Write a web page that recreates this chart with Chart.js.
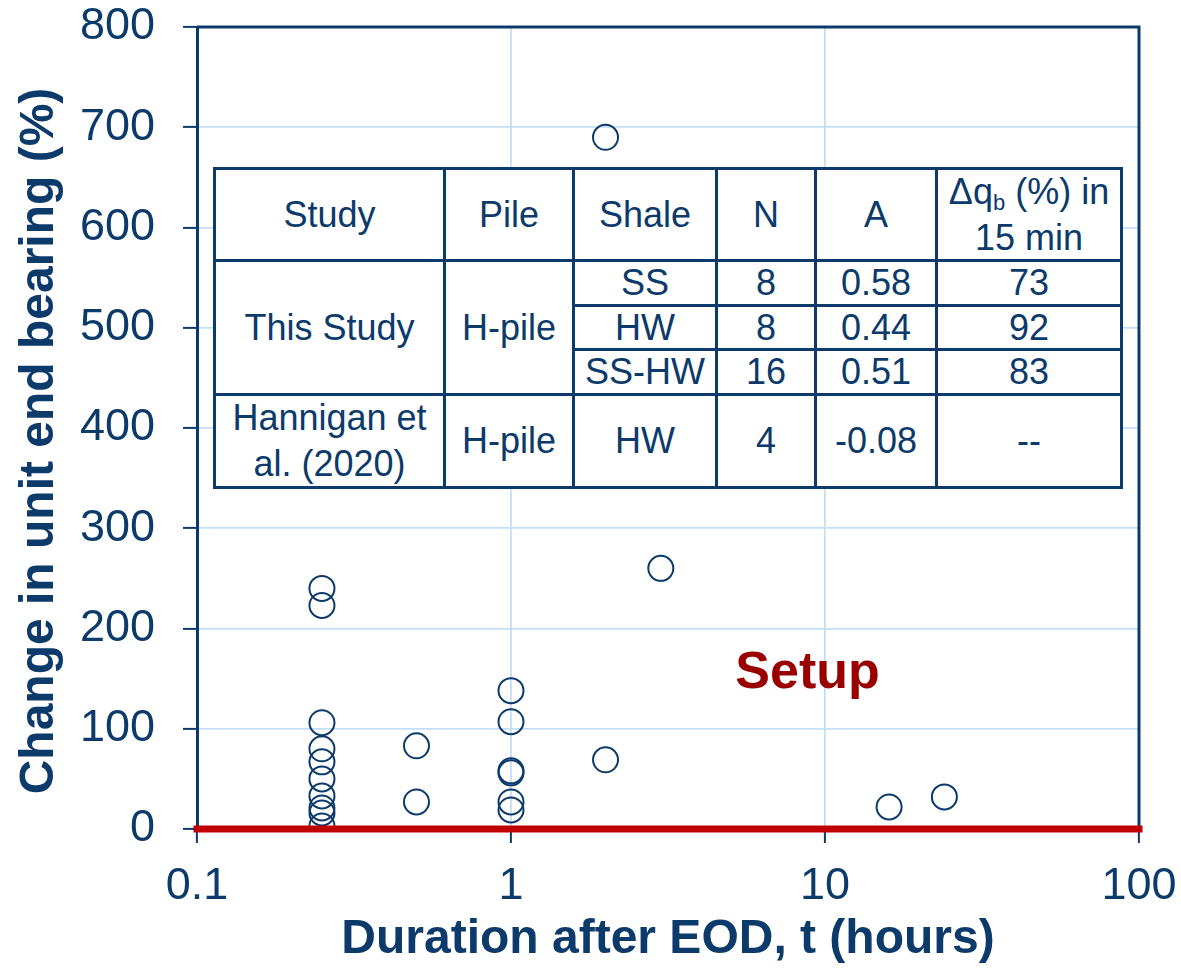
<!DOCTYPE html>
<html>
<head>
<meta charset="utf-8">
<script src="https://cdn.jsdelivr.net/npm/chart.js@4.4.1/dist/chart.umd.min.js"></script>
<style>
  html, body { margin: 0; padding: 0; background: #ffffff; }
  #wrap { position: relative; width: 1181px; height: 969px; }
  #c { position: absolute; left: 0; top: 0; }
  #tbl {
    position: absolute; left: 213px; top: 167px;
    display: grid;
    grid-template-columns: 227px 126px 140px 96px 118px 182px;
    grid-template-rows: 89px 42px 41px 42px 90px;
    gap: 3px; padding: 3px;
    background: #0b3a6b;
    font-family: "Liberation Sans", Arial, sans-serif;
    font-size: 36px; color: #0b3a6b;
  }
  #tbl div {
    background: #ffffff;
    display: flex; align-items: center; justify-content: center;
    text-align: center; line-height: 46px;
  }
  #tbl sub { font-size: 22px; vertical-align: -6px; line-height: 0; }
</style>
</head>
<body>
<div id="wrap">
  <canvas id="c" width="1181" height="969"></canvas>
  <div id="tbl"></div>
</div>
<script>
// ---- data ----
const durationHours = [0.25,0.25,0.25,0.25,0.25,0.25,0.25,0.25,0.25,0.25,
                       0.5,0.5,
                       1,1,1,1,1,1,
                       2,2,
                       3,
                       16,
                       24];
const changePercent = [240,223,106,80,67,50,33,21,16,3,
                       83,27,
                       138,107,58,56,27,19,
                       690,69,
                       260,
                       22,
                       32];
const xTickValues = [0.1, 1, 10, 100];
const setupLineX = [0.1, 100];
const setupLineY = [0, 0];
const setupLabel = "Setup";
const setupLabelAt = [8.8, 155];
const yTitle = "Change in unit end bearing (%)";
const xTitle = "Duration after EOD, t (hours)";

// table contents
const tableHeaders = ["Study", "Pile", "Shale", "N", "A", "Δq<sub>b</sub> (%) in<br>15 min"];
const studies = ["This Study", "Hannigan et<br>al. (2020)"];
const piles = ["H-pile", "H-pile"];
const shales = ["SS", "HW", "SS-HW", "HW"];
const nValues = ["8", "8", "16", "4"];
const aValues = ["0.58", "0.44", "0.51", "-0.08"];
const dqbValues = ["73", "92", "83", "--"];

// ---- table ----
(function buildTable(){
  const t = document.getElementById('tbl');
  function cell(html, col, row, rowSpan) {
    const d = document.createElement('div');
    const s = document.createElement('span');
    s.innerHTML = html;
    d.appendChild(s);
    d.style.gridColumn = col;
    d.style.gridRow = rowSpan ? (row + ' / span ' + rowSpan) : String(row);
    t.appendChild(d);
  }
  tableHeaders.forEach((h, i) => cell(h, i + 1, 1));
  cell(studies[0], 1, 2, 3);
  cell(piles[0], 2, 2, 3);
  for (let i = 0; i < 3; i++) {
    cell(shales[i], 3, 2 + i);
    cell(nValues[i], 4, 2 + i);
    cell(aValues[i], 5, 2 + i);
    cell(dqbValues[i], 6, 2 + i);
  }
  cell(studies[1], 1, 5);
  cell(piles[1], 2, 5);
  cell(shales[3], 3, 5);
  cell(nValues[3], 4, 5);
  cell(aValues[3], 5, 5);
  cell(dqbValues[3], 6, 5);
})();

// ---- chart ----
const NAVY = '#0b3a6b';
const GRID = '#c4def8';
const FONT = '"Liberation Sans", Arial, sans-serif';

const framePlugin = {
  id: 'frame',
  beforeDatasetsDraw(chart) {
    const { ctx, chartArea: a } = chart;
    ctx.save();
    ctx.strokeStyle = NAVY;
    ctx.lineWidth = 3;
    ctx.beginPath();
    ctx.moveTo(a.left, a.top);
    ctx.lineTo(a.right, a.top);
    ctx.lineTo(a.right, a.bottom);
    ctx.stroke();
    ctx.restore();
  },
  afterDatasetsDraw(chart) {
    const { ctx, scales } = chart;
    ctx.save();
    ctx.font = 'bold 52px ' + FONT;
    ctx.fillStyle = '#990000';
    ctx.textAlign = 'center';
    ctx.textBaseline = 'middle';
    ctx.fillText(setupLabel, scales.x.getPixelForValue(setupLabelAt[0]), scales.y.getPixelForValue(setupLabelAt[1]));
    ctx.restore();
  },
  afterDraw(chart) {
    // y-axis title, centred slightly below the plot middle as in the original
    const { ctx, chartArea: a } = chart;
    ctx.save();
    ctx.translate(40, (a.top + a.bottom) / 2 + 13);
    ctx.rotate(-Math.PI / 2);
    ctx.font = 'bold 48px ' + FONT;
    ctx.fillStyle = NAVY;
    ctx.textAlign = 'center';
    ctx.textBaseline = 'middle';
    ctx.fillText(yTitle, 0, 0);
    ctx.restore();
  }
};

new Chart(document.getElementById('c'), {
  type: 'scatter',
  data: {
    datasets: [
      {
        type: 'line',
        data: setupLineX.map((x, i) => ({ x, y: setupLineY[i] })),
        borderColor: '#c00000',
        borderWidth: 7,
        borderCapStyle: 'square',
        pointRadius: 0,
        clip: false,
        order: 0
      },
      {
        data: durationHours.map((x, i) => ({ x, y: changePercent[i] })),
        pointStyle: 'circle',
        pointRadius: 12.5,
        borderWidth: 2,
        borderColor: NAVY,
        backgroundColor: 'rgba(0,0,0,0)',
        order: 1
      }
    ]
  },
  options: {
    responsive: false,
    animation: false,
    events: [],
    layout: { padding: { top: 27, right: 42, left: 0, bottom: 0 } },
    plugins: { legend: { display: false }, tooltip: { enabled: false } },
    scales: {
      x: {
        type: 'logarithmic',
        min: 0.1, max: 100,
        afterBuildTicks(scale) { scale.ticks = xTickValues.map(v => ({ value: v, major: true })); },
        afterFit(scale) { scale.height = 140; scale.paddingLeft = 0; scale.paddingRight = 0; },
        ticks: {
          autoSkip: false, maxRotation: 0,
          color: NAVY, padding: 17,
          font: { family: FONT, size: 45 },
          callback: (v) => String(v)
        },
        grid: { color: GRID, lineWidth: 1.8, tickColor: NAVY, tickLength: 14, tickWidth: 2 },
        border: { color: NAVY, width: 3 },
        title: {
          display: true, text: xTitle, color: NAVY,
          font: { family: FONT, size: 48, weight: 'bold' }, padding: { top: 0, bottom: 0 }
        }
      },
      y: {
        min: 0, max: 800,
        afterFit(scale) { scale.width = 197; scale.paddingTop = 0; scale.paddingBottom = 0; },
        ticks: {
          stepSize: 100, color: NAVY, padding: 28,
          font: { family: FONT, size: 45 }
        },
        grid: { color: GRID, lineWidth: 1.8, tickColor: NAVY, tickLength: 14, tickWidth: 2 },
        border: { color: NAVY, width: 3 },
        title: { display: false }
      }
    }
  },
  plugins: [framePlugin]
});
</script>
</body>
</html>
